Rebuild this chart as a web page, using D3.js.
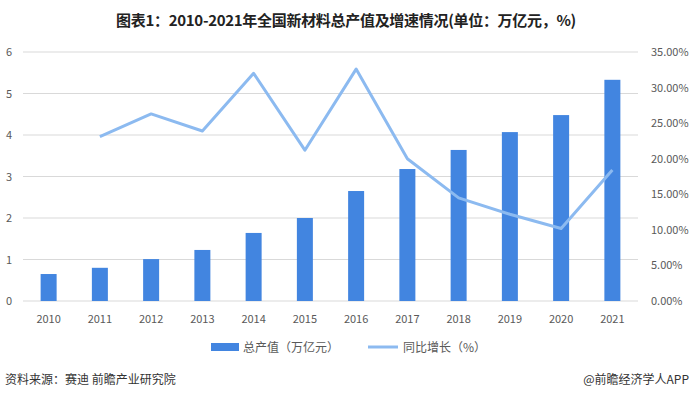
<!DOCTYPE html>
<html>
<head>
<meta charset="utf-8">
<script src="https://cdn.jsdelivr.net/npm/d3@7"></script>
<style>
  body { margin: 0; background: #fff; }
  text { font-family: "Noto Sans CJK SC", "Noto Sans", sans-serif; }
</style>
</head>
<body>
<svg id="chart" width="692" height="396"></svg>
<script>
// data
const years = ['2010','2011','2012','2013','2014','2015','2016','2017','2018','2019','2020','2021'];
const output = [0.65, 0.8, 1.01, 1.23, 1.64, 2.0, 2.65, 3.18, 3.64, 4.07, 4.48, 5.33];
const growth = [null, 23.1, 26.3, 23.9, 32.0, 21.2, 32.6, 20.0, 14.5, 12.2, 10.2, 18.4];
const leftTicks = [0, 1, 2, 3, 4, 5, 6];
const rightTicks = [0, 5, 10, 15, 20, 25, 30, 35];

const svg = d3.select('#chart');
const margin = {top: 52, right: 54, bottom: 95, left: 23};
const width = 692 - margin.left - margin.right;
const height = 396 - margin.top - margin.bottom;

// title
svg.append('text')
  .attr('x', 346).attr('y', 26)
  .attr('text-anchor', 'middle')
  .style('font-size', '15px').style('font-weight', 'bold').style('fill', '#222')
  .style('letter-spacing', '-0.3px')
  .text('图表1：2010-2021年全国新材料总产值及增速情况(单位：万亿元，%)');

const g = svg.append('g').attr('transform', `translate(${margin.left},${margin.top})`);

const x = d3.scaleBand().domain(years).range([0, width]);
const y = d3.scaleLinear().domain([0, 6]).range([height, 0]);
const y2 = d3.scaleLinear().domain([0, 35]).range([height, 0]);

// gridlines
g.append('g').selectAll('line').data(leftTicks).enter().append('line')
  .attr('x1', 0).attr('x2', width)
  .attr('y1', d => y(d)).attr('y2', d => y(d))
  .attr('stroke', '#d9d9d9').attr('stroke-width', 1);

// left axis labels
g.append('g').selectAll('text').data(leftTicks).enter().append('text')
  .attr('x', -11).attr('y', d => y(d) + 4)
  .attr('text-anchor', 'end')
  .style('font-size', '11px').style('fill', '#595959')
  .text(d => d);

// right axis labels
g.append('g').selectAll('text').data(rightTicks).enter().append('text')
  .attr('x', width + 13).attr('y', d => y2(d) + 4)
  .style('font-size', '11px').style('fill', '#595959')
  .text(d => d.toFixed(2) + '%');

// x labels
g.append('g').selectAll('text').data(years).enter().append('text')
  .attr('x', d => x(d) + x.bandwidth() / 2).attr('y', height + 22)
  .attr('text-anchor', 'middle')
  .style('font-size', '11px').style('fill', '#595959')
  .text(d => d);

// bars
const barW = 16;
g.append('g').selectAll('rect').data(output).enter().append('rect')
  .attr('x', (d, i) => x(years[i]) + x.bandwidth() / 2 - barW / 2)
  .attr('y', d => y(d))
  .attr('width', barW)
  .attr('height', d => height - y(d))
  .attr('fill', '#4285e0');

// growth line
const line = d3.line()
  .defined(d => d.v != null)
  .x(d => x(d.year) + x.bandwidth() / 2)
  .y(d => y2(d.v));
g.append('path')
  .datum(years.map((yr, i) => ({year: yr, v: growth[i]})))
  .attr('d', line)
  .attr('fill', 'none')
  .attr('stroke', '#8cbaf0')
  .attr('stroke-width', 3)
  .attr('stroke-linejoin', 'round');

// legend
const leg = svg.append('g').attr('transform', 'translate(0,347)');
leg.append('rect').attr('x', 211).attr('y', -4).attr('width', 28).attr('height', 8).attr('fill', '#4285e0');
leg.append('text').attr('x', 243).attr('y', 5).style('font-size', '12px').style('fill', '#595959').text('总产值（万亿元）');
leg.append('line').attr('x1', 368).attr('x2', 398).attr('y1', 0).attr('y2', 0)
  .attr('stroke', '#8cbaf0').attr('stroke-width', 3);
leg.append('text').attr('x', 403).attr('y', 5).style('font-size', '12px').style('fill', '#595959').text('同比增长（%）');

// footer
svg.append('text').attr('x', 5).attr('y', 384)
  .style('font-size', '12px').style('fill', '#333')
  .text('资料来源：赛迪 前瞻产业研究院');
svg.append('text').attr('x', 689).attr('y', 384)
  .attr('text-anchor', 'end')
  .style('font-size', '12px').style('fill', '#333')
  .text('@前瞻经济学人APP');
</script>
</body>
</html>
